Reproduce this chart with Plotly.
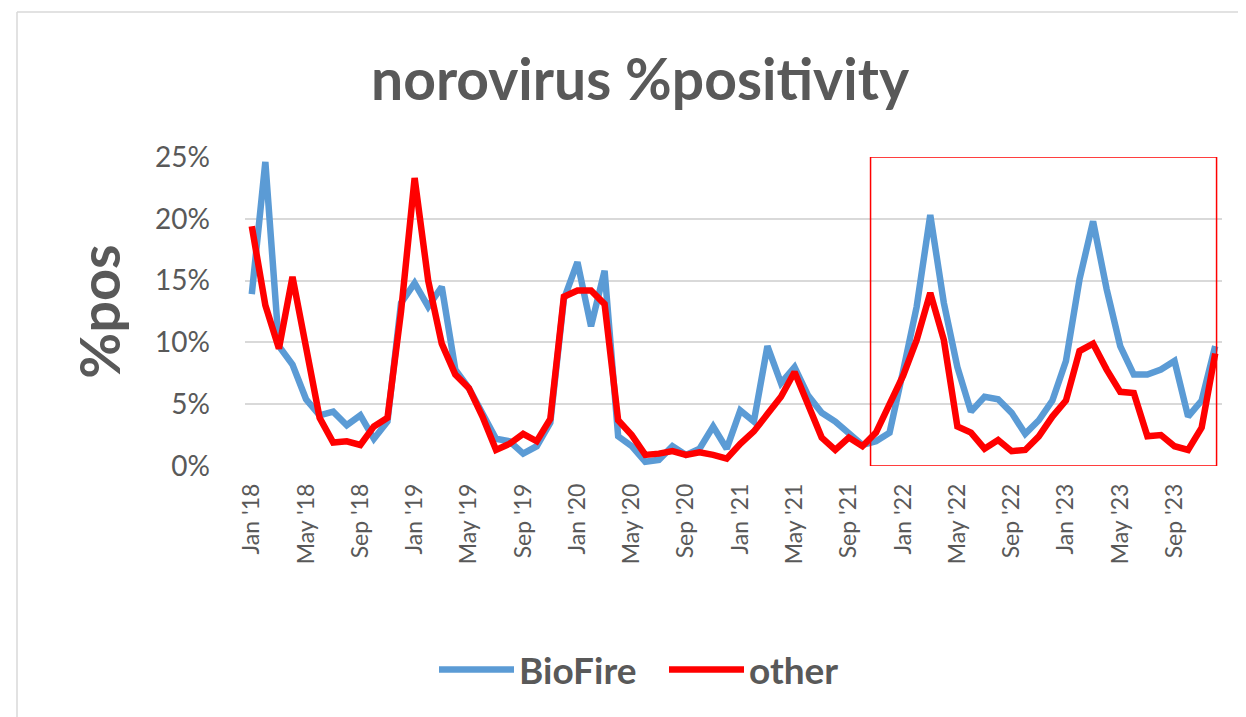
import plotly.graph_objects as go

months = ["Jan", "Feb", "Mar", "Apr", "May", "Jun", "Jul", "Aug", "Sep", "Oct", "Nov", "Dec"]
years = ["18", "19", "20", "21", "22", "23"]
categories = [f"{m} '{y}" for y in years for m in months]

biofire = [
    13.9, 24.6, 9.7, 8.2, 5.4, 4.1, 4.4, 3.3, 4.1, 2.2, 3.6, 13.2,
    14.8, 12.9, 14.5, 7.8, 6.3, 4.3, 2.2, 2.0, 1.0, 1.6, 3.5, 13.5,
    16.5, 11.3, 15.8, 2.4, 1.6, 0.35, 0.5, 1.6, 0.9, 1.4, 3.2, 1.4,
    4.5, 3.6, 9.7, 6.7, 8.0, 5.7, 4.3, 3.6, 2.6, 1.7, 2.0, 2.7,
    7.7, 12.9, 20.3, 13.2, 8.0, 4.4, 5.6, 5.4, 4.3, 2.6, 3.7, 5.3,
    8.5, 15.1, 19.8, 14.3, 9.7, 7.4, 7.4, 7.8, 8.5, 4.0, 5.3, 9.7,
]
other = [
    19.4, 13.0, 9.5, 15.3, 9.6, 3.9, 1.9, 2.0, 1.7, 3.2, 3.9, 12.5,
    23.3, 15.0, 9.9, 7.4, 6.3, 4.0, 1.3, 1.8, 2.6, 2.0, 3.8, 13.7,
    14.2, 14.2, 13.1, 3.7, 2.5, 0.9, 1.0, 1.2, 0.9, 1.1, 0.9, 0.6,
    1.8, 2.8, 4.2, 5.6, 7.6, 4.8, 2.3, 1.3, 2.3, 1.6, 2.7, 5.0,
    7.3, 10.2, 14.0, 10.2, 3.2, 2.7, 1.4, 2.1, 1.2, 1.3, 2.4, 4.0,
    5.3, 9.3, 9.9, 7.8, 6.0, 5.9, 2.4, 2.5, 1.6, 1.3, 3.1, 9.1,
]
tick_labels = categories[::4]
y_ticks = [0, 5, 10, 15, 20, 25]
y_tick_text = [f"{v}%" for v in y_ticks]

GREY = "#595959"
FONT = "Lato"

fig = go.Figure()
fig.add_trace(go.Scatter(x=categories, y=biofire, mode="lines", name="<b>BioFire</b>",
                         line=dict(color="#5B9BD5", width=6.5)))
fig.add_trace(go.Scatter(x=categories, y=other, mode="lines", name="<b>other</b>",
                         line=dict(color="#FF0000", width=6.5)))

# page is rendered with an 8px body offset; work in figure coordinates
OFF = 8
W, H = 1246 - OFF, 717 - OFF
L, R, T, B = 245 - OFF, 1222 - OFF, 157 - OFF, 466 - OFF

fig.update_layout(
    width=W, height=H,
    margin=dict(l=L, r=W - R, t=T, b=H - B, pad=0),
    paper_bgcolor="white", plot_bgcolor="white",
    title=dict(text="<b>norovirus %positivity</b>", x=(640 - OFF) / W, xanchor="center",
               y=1 - (80 - OFF) / H, yanchor="middle",
               font=dict(family=FONT, size=57, color=GREY)),
    xaxis=dict(type="category", range=[-0.5, 71.5], tickmode="array",
               tickvals=tick_labels, ticktext=tick_labels, tickangle=-90,
               tickfont=dict(family=FONT, size=23, color=GREY),
               showgrid=False, showline=False, ticks="", zeroline=False,
               ticklabelstandoff=12),
    yaxis=dict(range=[0, 25], tickmode="array", tickvals=y_ticks, ticktext=y_tick_text,
               tickfont=dict(family=FONT, size=28, color=GREY),
               showgrid=True, gridcolor="#D9D9D9", gridwidth=2,
               zeroline=False, showline=False, ticks="", ticklabelstandoff=34,
               title=dict(text="<b>%pos</b>", font=dict(family=FONT, size=56, color=GREY),
                          standoff=16)),
    legend=dict(orientation="h", x=(664 - 245) / (R - L), xanchor="center",
                y=(466 - 670) / (B - T), yanchor="middle",
                font=dict(family=FONT, size=37, color=GREY),
                itemwidth=75, entrywidth=140, entrywidthmode="pixels",
                bgcolor="rgba(0,0,0,0)"),
    showlegend=True,
)

# highlight box around 2022-2023
fig.add_shape(type="rect", xref="x", yref="y", x0=45.6, x1=71.1, y0=0, y1=25,
              line=dict(color="#FF0000", width=1.5), fillcolor="rgba(0,0,0,0)")

# outer chart border (left and top)
px = lambda v: (v - OFF - L) / (R - L)
py = lambda v: (B - (v - OFF)) / (B - T)
fig.add_shape(type="line", xref="paper", yref="paper", x0=px(17), x1=px(17), y0=py(12), y1=py(717),
              line=dict(color="#D9D9D9", width=1.5))
fig.add_shape(type="line", xref="paper", yref="paper", x0=px(17), x1=px(1246), y0=py(12), y1=py(12),
              line=dict(color="#D9D9D9", width=1.5))

fig.write_html("out.html")
